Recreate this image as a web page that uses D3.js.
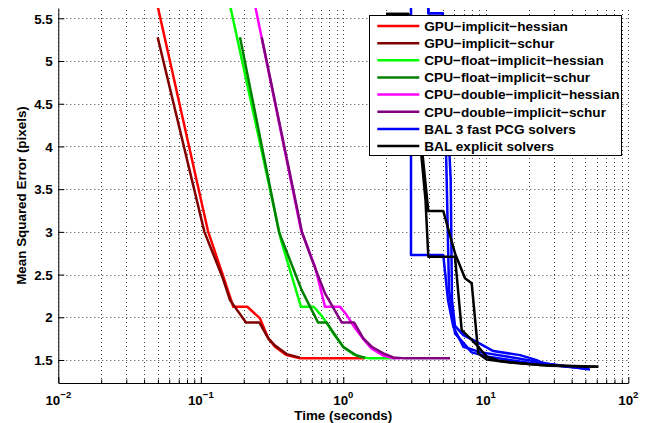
<!DOCTYPE html>
<html>
<head>
<meta charset="utf-8">
<script src="https://cdn.jsdelivr.net/npm/d3@7"></script>
<style>
body { margin: 0; background: #fff; }
text { font-family: "Liberation Sans", Arial, Helvetica, sans-serif; font-weight: bold; fill: #000; }
</style>
</head>
<body>
<div id="container"></div>
<script>
// series names, in legend order
var seriesNames = ["GPU\u2212implicit\u2212hessian", "GPU\u2212implicit\u2212schur",
	"CPU\u2212float\u2212implicit\u2212hessian", "CPU\u2212float\u2212implicit\u2212schur",
	"CPU\u2212double\u2212implicit\u2212hessian", "CPU\u2212double\u2212implicit\u2212schur",
	"BAL 3 fast PCG solvers", "BAL explicit solvers"];

// [time (s), mean squared error (px)]
var gpuHessian = [[0.0468,5.843],[0.1123,3.009],[0.1432,2.486],
	[0.1691,2.123],[0.2120,2.123],[0.2602,1.987],[0.2976,1.753],[0.3317,1.655],[0.4007,1.557],[0.4967,1.519],[1.420,1.519]];
var gpuSchur = [[0.0498,5.278],[0.1061,2.997],[0.1424,2.462],
	[0.1603,2.201],[0.2076,1.940],[0.2573,1.940],[0.2976,1.753],[0.3317,1.669],[0.4007,1.569],[0.4967,1.528]];
var cpuFloatHessian = [[0.1520,5.831],[0.3654,2.904],[0.5048,2.123],
	[0.6198,2.123],[0.7087,2.014],[0.7809,1.909],[0.8507,1.811],[1.0,1.655],[1.1755,1.566],[1.382,1.528],[1.540,1.519],[2.306,1.519]];
var cpuFloatSchur = [[0.1884,5.278],[0.3538,2.997],[0.5105,2.318],
	[0.6645,1.940],[0.7647,1.940],[0.8507,1.821],[1.0,1.651],[1.2416,1.552],[1.420,1.528]];
var cpuDoubleHessian = [[0.2284,5.831],[0.5048,3.021],
	[0.5472,2.869],[0.6330,2.591],[0.7440,2.123],[0.9480,2.123],[1.0565,2.026],[1.2081,1.874],[1.382,1.745],
	[1.582,1.633],[1.909,1.552],[2.243,1.519],[2.500,1.519]];
var cpuDoubleSchur = [[0.2676,5.278],[0.5129,2.997],
	[0.6161,2.631],[0.7440,2.280],[0.9745,1.940],[1.189,1.940],[1.382,1.753],[1.582,1.655],[1.909,1.577],
	[2.243,1.530],[2.710,1.519],[5.609,1.519]];
// BAL has several runs per legend entry
var balPcgA = [[2.986,5.831],[2.986,2.728],[5.031,2.728],[5.429,2.201],[5.914,1.889],[6.954,1.655],[9.106,1.592],
	[14.78,1.534],[28.22,1.452],[53.85,1.390]];
var balPcgB = [[3.950,5.831],[3.950,5.559],[4.982,5.559],[5.316,3.607],[5.518,2.318],[6.080,1.811],[7.963,1.589],
	[10.70,1.534],[20.43,1.464],[49.68,1.399]];
var balPcgC = [[3.950,5.831],[3.950,5.559],[4.982,5.559],[5.672,3.607],[5.791,2.201],[6.080,1.900],[6.954,1.791],
	[8.634,1.713],[11.29,1.604],[17.38,1.557],[22.76,1.499],[25.32,1.460],[33.17,1.434],[52.14,1.402]];
var balExplicitA = [[1.993,5.550],[2.858,5.550],[3.950,3.244],[5.031,3.244],[6.080,2.748],[7.145,2.456],[7.963,2.397],
	[8.858,1.577],[10.15,1.507],[14.78,1.470],[28.22,1.434],[61.59,1.420]];
var balExplicitB = [[1.993,5.550],[2.858,5.550],[3.775,3.372],[3.950,2.708],[6.080,2.708],[6.775,1.850],[7.746,1.757],
	[8.858,1.655],[10.15,1.538],[12.58,1.487],[24.01,1.440],[61.59,1.420]];

var xTicks = [0.01, 0.1, 1, 10, 100];
var xExponents = ["\u22122", "\u22121", "0", "1", "2"];
var yTicks = [1.5, 2, 2.5, 3, 3.5, 4, 4.5, 5, 5.5];

var colors = ["#ff0000", "#800000", "#00ff00", "#008000", "#ff00ff", "#800080", "#0000ff", "#000000"];

var width = 647, height = 423;
var plot = {left: 58.3, right: 628.3, top: 8, bottom: 383};

var svg = d3.select("#container").append("svg")
	.attr("width", width)
	.attr("height", height);

var x = d3.scaleLog().domain([0.01, 100]).range([plot.left, plot.right]);
var y = d3.scaleLinear().domain([1.2307, 5.6206]).range([plot.bottom, plot.top]);

// minor log ticks 2..9 per decade
var xMinor = [];
xTicks.slice(0, -1).forEach(function(d) {
	for (var k = 2; k <= 9; k++) xMinor.push(d * k);
});

// grid (dotted, matlab style)
var grid = svg.append("g").attr("class", "grid")
	.style("stroke", "#444").style("stroke-width", 1).style("stroke-dasharray", "1,3");
grid.selectAll(".vgrid").data(xTicks.concat(xMinor)).enter()
	.append("line")
		.attr("x1", function(d) { return Math.round(x(d)) + 0.5; })
		.attr("x2", function(d) { return Math.round(x(d)) + 0.5; })
		.attr("y1", plot.bottom).attr("y2", plot.top);
grid.selectAll(".hgrid").data(yTicks).enter()
	.append("line")
		.attr("x1", plot.left).attr("x2", plot.right)
		.attr("y1", function(d) { return Math.round(y(d)) + 0.5; })
		.attr("y2", function(d) { return Math.round(y(d)) + 0.5; });

// axes
svg.append("g")
	.attr("transform", "translate(0," + plot.bottom + ")")
	.call(d3.axisBottom(x).tickValues(xTicks).tickSizeInner(-6).tickSizeOuter(0).tickFormat(""));
svg.append("g")
	.attr("transform", "translate(0," + plot.bottom + ")")
	.call(d3.axisBottom(x).tickValues(xMinor).tickSizeInner(-3.5).tickSizeOuter(0).tickFormat(""))
	.select(".domain").remove();

var yAxis = svg.append("g")
	.attr("transform", "translate(" + plot.left + ",0)")
	.call(d3.axisLeft(y).tickValues(yTicks).tickSizeInner(-6).tickSizeOuter(0).tickPadding(5.5)
		.tickFormat(function(d) { return d; }));
yAxis.selectAll("text").attr("font-size", null).attr("font-family", null)
	.style("font-size", "13.4px").attr("dy", "0.35em");
svg.selectAll(".domain").style("stroke", "#000").style("stroke-width", 1);
svg.selectAll(".tick line").style("stroke", "#000");

// x tick labels: 10 with superscript exponent
var xl = svg.selectAll(".xlabel").data(xTicks).enter()
	.append("text")
		.attr("class", "xlabel")
		.attr("x", function(d) { return x(d); })
		.attr("y", 405)
		.style("text-anchor", "middle")
		.style("font-size", "13.4px");
xl.append("tspan").text("10");
xl.append("tspan").attr("dy", -7.5).style("font-size", "9.5px")
	.text(function(d, i) { return xExponents[i]; });

svg.append("text")
	.attr("x", (plot.left + plot.right) / 2)
	.attr("y", 420)
	.style("text-anchor", "middle")
	.style("font-size", "13.4px")
	.text("Time (seconds)");

svg.append("text")
	.attr("transform", "translate(26," + ((plot.top + plot.bottom) / 2) + ") rotate(-90)")
	.style("text-anchor", "middle")
	.style("font-size", "13.4px")
	.text("Mean Squared Error (pixels)");

// lines
svg.append("clipPath").attr("id", "clip")
	.append("rect")
		.attr("x", plot.left).attr("y", plot.top)
		.attr("width", plot.right - plot.left).attr("height", plot.bottom - plot.top);

var line = d3.line()
	.x(function(d) { return x(d[0]); })
	.y(function(d) { return y(d[1]); });

var curves = [
	{data: gpuHessian, s: 0}, {data: gpuSchur, s: 1},
	{data: cpuFloatHessian, s: 2}, {data: cpuFloatSchur, s: 3},
	{data: cpuDoubleHessian, s: 4}, {data: cpuDoubleSchur, s: 5},
	{data: balPcgA, s: 6}, {data: balPcgB, s: 6}, {data: balPcgC, s: 6},
	{data: balExplicitA, s: 7}, {data: balExplicitB, s: 7}
];

svg.append("g").attr("clip-path", "url(#clip)")
	.selectAll(".curve").data(curves).enter()
	.append("path")
		.attr("class", "curve")
		.attr("d", function(d) { return line(d.data); })
		.style("fill", "none")
		.style("stroke", function(d) { return colors[d.s]; })
		.style("stroke-width", 2.5)
		.style("stroke-linejoin", "round");

// legend
var lg = svg.append("g").attr("class", "legend");
lg.append("rect")
	.attr("x", 369.5).attr("y", 15.5)
	.attr("width", 252).attr("height", 140)
	.style("fill", "#fff").style("stroke", "#000").style("stroke-width", 1);

var rows = lg.selectAll(".row").data(seriesNames).enter()
	.append("g")
		.attr("class", "row")
		.attr("transform", function(d, i) { return "translate(0," + (26 + i * 17.15) + ")"; });
rows.append("line")
	.attr("x1", 377.3).attr("x2", 419.3)
	.style("stroke", function(d, i) { return colors[i]; })
	.style("stroke-width", 2.5);
rows.append("text")
	.attr("x", 424.3)
	.attr("dy", "0.35em")
	.style("font-size", "13.6px")
	.text(function(d) { return d; });
</script>
</body>
</html>
